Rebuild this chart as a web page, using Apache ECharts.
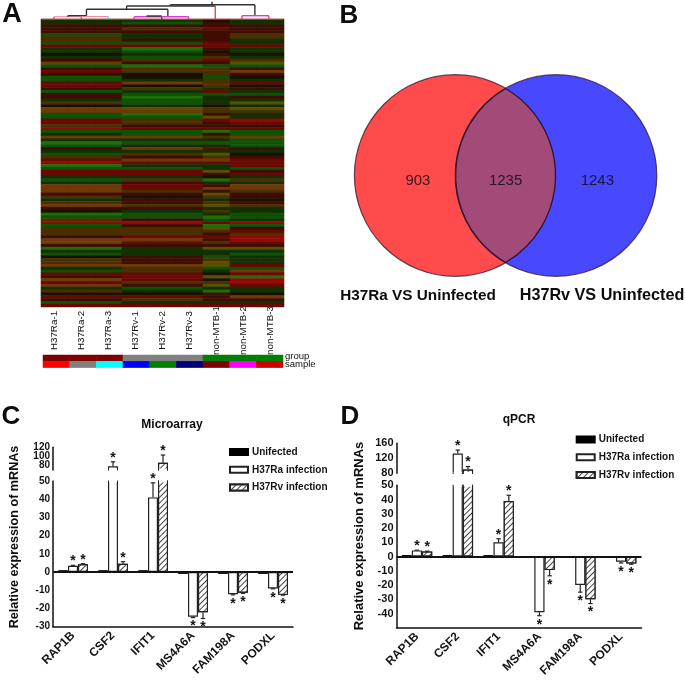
<!DOCTYPE html>
<html><head><meta charset="utf-8">
<style>html,body{margin:0;padding:0;background:#fff}#c{width:685px;height:682px}#c canvas{filter:blur(.45px)}</style>
<script src="https://cdn.jsdelivr.net/npm/echarts@6/dist/echarts.min.js"></script>
</head><body><div id="c"></div>
<script>
// ---------- data ----------
const samples = ['H37Ra-1','H37Ra-2','H37Ra-3','H37Rv-1','H37Rv-2','H37Rv-3','non-MTB-1','non-MTB-2','non-MTB-3'];
const stripRows = ['sample','group'];
const groupColors = ['#7f0000','#7f0000','#7f0000','#808080','#808080','#808080','#008000','#008000','#008000'];
const sampleColors = ['#ff0000','#808080','#00ffff','#0000ff','#008000','#00007f','#7f0000','#ff00ff','#cc0000'];
// heat rows, top to bottom; level codes -3..3 green to red, 4..6 brown/orange/olive mixes
const heatRa = [-1,-1,1,1,1,-2,4,4,-2,2,-1,-1,0,-1,1,5,-2,1,2,1,-2,
 -2,2,2,1,-2,1,1,-1,4,0,5,5,-2,-2,2,2,4,3,-2,-1,5,
 -1,-3,-2,1,-1,-2,4,2,3,-3,-2,2,2,-1,-2,-1,5,5,5,1,4,
 -1,4,5,1,0,-3,-2,4,3,-2,4,4,4,1,5,5,1,-3,-1,-2,0,
 4,4,5,-1,-2,2,1,5,2,5,-1,4,0,2,1,-2,2];
const heatRv = [-1,-2,1,4,1,-1,-1,1,-2,2,-3,-2,-1,-2,4,1,-3,4,4,0,0,
 -1,5,0,4,-1,-2,-3,-2,-2,-1,6,5,-3,-2,4,4,1,2,-2,-2,5,
 -1,-2,-1,5,-1,4,1,5,2,-1,-2,2,2,-1,4,1,2,2,4,1,0,
 1,1,4,1,-1,-2,-2,1,3,1,4,4,4,2,5,2,1,-1,-1,-1,1,
 1,1,5,4,4,2,2,2,4,1,-2,-1,0,2,4,-1,2];
const heatN1 = [0,1,1,2,1,1,1,1,2,2,1,0,1,4,2,1,-2,4,4,4,-2,
 4,4,4,-1,2,-2,-1,-1,-1,0,4,4,1,6,2,1,1,2,-3,1,4,
 -1,-2,-1,2,-1,6,4,5,2,-1,-1,6,1,0,-3,-1,1,5,1,6,4,
 -1,4,6,-1,4,-1,-3,-2,2,-3,6,4,1,2,1,4,1,6,-1,-1,-2,
 4,6,6,-2,-1,0,6,0,4,6,-1,-3,1,1,1,-1,2];
const heatN23 = [-1,-1,1,1,1,4,4,-1,-1,2,-1,-1,0,-1,4,6,-2,1,5,1,0,
 -1,2,0,1,-1,-2,1,-1,6,-1,6,4,-1,-1,3,2,1,2,-2,-2,5,
 -2,-2,-2,1,-1,0,1,2,2,2,-2,1,2,-1,4,-1,5,5,4,1,1,
 0,1,4,-1,-1,-2,-2,-1,3,-2,1,2,4,3,3,2,1,6,-1,-2,-1,
 -1,-1,2,-2,5,2,-3,3,3,2,-1,-1,0,5,1,-1,2];
const heatLevels = [-3,-2,-1,0,1,2,3,4,5,6];
const heatColors = ['#1f6e08','#0e5204','#123002','#181000','#3e0c00','#680800','#900a04','#4a3000','#6e3808','#565000'];
// dendrogram segments: x1,y1,x2,y2,colour index
const dendroColors = ['#333333','#e04a5a','#d83ad8','#44d0d0','#f08090'];
const dendro = [
 [0,19,9,19,4],
 [.45,19,.45,16.7,1],[1.47,19,1.47,16.7,1],[.45,16.7,1.47,16.7,4],[.96,16.7,.96,15.7,0],[.96,15.7,1.66,15.7,0],
 [2.47,19,2.47,16.5,3],[1.47,16.5,2.47,16.5,4],
 [1.66,15.7,1.66,9.3,0],[1.66,9.3,4.7,9.3,0],[4.7,9.3,4.7,16,0],[3.16,9.3,3.16,6,0],[3.16,6,6.47,6,0],
 [6.47,6,6.47,19,1],[4.79,6,4.79,4.7,0],[4.79,4.7,7.95,4.7,0],[7.95,4.7,7.95,15.7,0],[6.35,4.7,6.35,1.7,0],
 [7.47,15.7,8.47,15.7,2],[7.47,15.7,7.47,19,1],[8.47,15.7,8.47,19,1],
 [3.44,16.7,3.44,19,2],[4.47,16.5,4.47,19,0],[3.44,16.7,5.47,16.7,2],[5.47,16.7,5.47,19,2],[3.9,16,4.47,16,0]
];
// venn
const vennCircles = [[1,1,1],[2,1,1]];
const vennCounts = [903,1235,1243];
const vennCountX = [0.63,1.5,2.41];
// bars
const genes = ['RAP1B','CSF2','IFIT1','MS4A6A','FAM198A','PODXL'];
const seriesNames = ['Unifected','H37Ra infection','H37Rv infection'];
const microUnifected = [1,1,1,-1,-1,-1];
const microRa = [3.5,78,41,-24.5,-12.2,-9];
const microRv = [4.3,4.5,86,-22,-11.3,-12.5];
const microRaErr = [0.2,10,8,0.5,0.3,0.2];
const microRvErr = [0.3,1.2,17,3.5,0.4,0.2];
const qpcrUnifected = [1,1,1,-1,-1,-0.7];
const qpcrRa = [4.3,133,10,-39,-20,-3.7];
const qpcrRv = [3.5,90,39,-9.5,-30,-4.8];
const qpcrRaErr = [0.2,9,2.5,2.5,5,0.8];
const qpcrRvErr = [0.3,8,4,4,3,0.6];

// ---------- layout ----------
const FONT = '"Liberation Sans",Arial,sans-serif';
const INK = '#141414';
const grids = [], xAxes = [], yAxes = [], extraY = [], series = [];
function addGrid(g){ grids.push(g); return grids.length-1; }

// heatmap
const gHeat = addGrid({left:41,top:19,width:243,height:288});
xAxes.push({gridIndex:gHeat,type:'category',data:samples,axisLine:{show:false},axisTick:{show:false},
  axisLabel:{rotate:90,interval:0,margin:23.5,align:'center',verticalAlign:'middle',fontFamily:FONT,fontSize:9.8,color:'#111'}});
yAxes.push({gridIndex:gHeat,type:'category',inverse:true,data:heatRa.map((_,i)=>i),show:false});
const heatCells=[];
heatRa.forEach((_,r)=>{
  samples.forEach((_,c)=>{
    const v = c<3?heatRa[r]:c<6?heatRv[r]:c===6?heatN1[r]:heatN23[r];
    heatCells.push([c,r,v]);
  });
});
series.push({type:'heatmap',xAxisIndex:gHeat,yAxisIndex:gHeat,data:heatCells,progressive:0,animation:false});
const heatSeriesIndex = series.length-1;

// strips
const gStrip = addGrid({left:43,top:355,width:240,height:12.6});
xAxes.push({gridIndex:gStrip,type:'category',data:samples,show:false});
yAxes.push({gridIndex:gStrip,type:'category',data:stripRows,show:false});
const stripCells=[];
samples.forEach((_,c)=>{
  stripCells.push({value:[c,1,1],itemStyle:{color:groupColors[c]}});
  stripCells.push({value:[c,0,1],itemStyle:{color:sampleColors[c]}});
});
series.push({type:'heatmap',xAxisIndex:gStrip,yAxisIndex:gStrip,data:stripCells,z:5,animation:false});

// dendrogram
const gDen = addGrid({left:42,top:0,width:241,height:19});
xAxes.push({gridIndex:gDen,type:'value',min:0,max:9,show:false});
yAxes.push({gridIndex:gDen,type:'value',min:0,max:19,inverse:true,show:false});
series.push({type:'custom',xAxisIndex:gDen,yAxisIndex:gDen,data:dendro,clip:false,animation:false,
  encode:{x:[0,2],y:[1,3]},
  renderItem(p,api){
    const a=api.coord([api.value(0),api.value(1)]), b=api.coord([api.value(2),api.value(3)]);
    return {type:'line',shape:{x1:a[0],y1:a[1],x2:b[0],y2:b[1]},
      style:{stroke:dendroColors[api.value(4)],lineWidth:api.value(4)===4?0.9:1.4}};
  }});

// venn
const gVenn = addGrid({left:354.4,top:75,width:302.4,height:201});
xAxes.push({gridIndex:gVenn,type:'value',min:0,max:3,show:false});
yAxes.push({gridIndex:gVenn,type:'value',min:0,max:2,show:false});
const vennFill=['#ff4b4b','#4848ff'];
series.push({type:'custom',xAxisIndex:gVenn,yAxisIndex:gVenn,data:vennCircles,clip:false,animation:false,
  renderItem(p,api){
    const c=api.coord([api.value(0),api.value(1)]), r=api.size([api.value(2),0])[0];
    return {type:'circle',shape:{cx:c[0],cy:c[1],r:r},style:{fill:vennFill[p.dataIndex],stroke:'rgba(50,20,40,.75)',lineWidth:1.2}};
  }});
series.push({type:'custom',xAxisIndex:gVenn,yAxisIndex:gVenn,data:[[vennCircles[0][0],vennCircles[1][0],vennCircles[0][2]]],clip:false,animation:false,z:3,
  renderItem(p,api){
    const x1=api.value(0),x2=api.value(1),R=api.value(2),d=(x2-x1)/2,h=Math.sqrt(R*R-d*d),mx=(x1+x2)/2;
    const a=api.coord([mx,1+h]),b=api.coord([mx,1-h]),r=api.size([R,0])[0];
    return {type:'path',shape:{pathData:`M${a[0]} ${a[1]}A${r} ${r} 0 0 1 ${b[0]} ${b[1]}A${r} ${r} 0 0 1 ${a[0]} ${a[1]}Z`},
      style:{fill:'#a24a78',stroke:'rgba(35,15,40,.9)',lineWidth:1.3}};
  }});
series.push({type:'scatter',xAxisIndex:gVenn,yAxisIndex:gVenn,symbolSize:0,z:6,animation:false,
  data:vennCounts.map((v,i)=>({value:[vennCountX[i],0.95],name:String(v)})),
  label:{show:true,position:'inside',formatter:'{b}',fontFamily:FONT,fontSize:15,color:'#0c0810'}});

// bar panels
const hatch={symbol:'rect',symbolSize:1,color:'#444',backgroundColor:'#fff',dashArrayX:[1,0],dashArrayY:[1,3],rotation:-Math.PI/4};
const barStyles=[
  {color:'#000',borderColor:'#000',borderWidth:1},
  {color:'#fff',borderColor:'#222',borderWidth:1.2},
  {color:'#fff',borderColor:'#222',borderWidth:1.2,decal:hatch}
];
function panel(cfg){
  const up = addGrid({left:cfg.left,width:cfg.width,top:cfg.upTop,height:cfg.upH});
  xAxes.push({gridIndex:up,type:'category',data:genes,show:false});
  const axisLbl={fontFamily:FONT,fontSize:cfg.tickFont,fontWeight:'bold',color:INK,margin:3,lineHeight:8,hideOverlap:false,showMinLabel:true,showMaxLabel:true};
  const line={show:true,onZero:false,lineStyle:{color:'#111',width:1.5}};
  yAxes.push({gridIndex:up,type:'value',min:cfg.upMin,max:cfg.upMax,splitLine:{show:false},axisLine:line,
    axisTick:{length:5,lineStyle:{color:'#111',width:1.5},customValues:cfg.upTicks},
    axisLabel:Object.assign({customValues:cfg.upLabels},axisLbl)});
  if(cfg.upLabelsMid){
    // labels too close together to share one axis without being dropped
    extraY.push({gridIndex:up,type:'value',position:'left',min:cfg.upMin,max:cfg.upMax,splitLine:{show:false},
      axisLine:{show:false},axisTick:{show:false},
      axisLabel:Object.assign({customValues:cfg.upLabelsMid},axisLbl)});
  }
  const lo = addGrid({left:cfg.left,width:cfg.width,top:cfg.loTop,height:cfg.loH});
  xAxes.push({gridIndex:lo,type:'category',data:genes,axisLine:line,position:'bottom',
    axisTick:{alignWithLabel:true,length:5,lineStyle:{color:'#111',width:1.5}},
    axisLabel:{interval:0,rotate:45,margin:7,fontFamily:FONT,fontSize:12,fontWeight:'bold',color:INK}});
  yAxes.push({gridIndex:lo,type:'value',min:cfg.loMin,max:cfg.loMax,splitLine:{show:false},axisLine:line,
    axisTick:{length:5,lineStyle:{color:'#111',width:1.5},customValues:cfg.loTicks},
    axisLabel:Object.assign({customValues:cfg.loLabels},axisLbl)});
  const vals=[cfg.un,cfg.ra,cfg.rv], errs=[null,cfg.raErr,cfg.rvErr];
  [0,1,2].forEach(s=>{
    series.push({type:'bar',name:seriesNames[s],xAxisIndex:lo,yAxisIndex:lo,data:vals[s],barWidth:'25%',barGap:'0%',
      itemStyle:barStyles[s],animation:false,
      markLine:s===0?{silent:true,symbol:'none',label:{show:false},animation:false,lineStyle:{color:'#111',width:2,type:'solid'},data:[{yAxis:0}]}:undefined});
    series.push({type:'bar',name:seriesNames[s],xAxisIndex:up,yAxisIndex:up,data:vals[s].map(v=>v>cfg.upMin?v:null),barWidth:'25%',barGap:'0%',
      itemStyle:barStyles[s],animation:false});
  });
  const errItems=[];
  [1,2].forEach(s=>{
    vals[s].forEach((v,i)=>errItems.push([i,v,errs[s][i],s-1]));
  });
  const render=(p,api)=>{
    const cat=api.value(0),v=api.value(1),e=api.value(2),off=api.value(3);
    const sign=v<0?-1:1;
    const base=api.coord([cat,v]), tip=api.coord([cat,v+sign*e]);
    const band=api.size([1,0])[0], x=base[0]+off*band*0.25;
    const cap=2.2;
    const ls={stroke:'#222',lineWidth:1.2};
    return {type:'group',children:[
      {type:'line',shape:{x1:x,y1:base[1],x2:x,y2:tip[1]},style:ls},
      {type:'line',shape:{x1:x-cap,y1:tip[1],x2:x+cap,y2:tip[1]},style:ls},
      {type:'text',style:{text:'*',x:x,y:tip[1]+(sign>0?-4:9),align:'center',verticalAlign:'middle',font:'bold 14px '+FONT,fill:INK}}
    ]};
  };
  // bars that cross the axis break end openly: a white sliver hides the clip edge
  const mask=(edge)=>(p,api)=>{
    const c=api.coord([api.value(0),edge]), band=api.size([1,0])[0], bw=band*0.25, x=c[0]+api.value(3)*bw;
    return {type:'rect',shape:{x:x-bw/2+1,y:c[1]-1.5,width:bw-2,height:3},style:{fill:'#fff'}};
  };
  const crossing=errItems.filter(d=>d[1]>cfg.loMax);
  series.push({type:'custom',xAxisIndex:up,yAxisIndex:up,clip:false,animation:false,z:3,data:crossing,renderItem:mask(cfg.upMin)});
  series.push({type:'custom',xAxisIndex:lo,yAxisIndex:lo,clip:false,animation:false,z:3,data:crossing,renderItem:mask(cfg.loMax)});
  series.push({type:'custom',xAxisIndex:up,yAxisIndex:up,clip:false,animation:false,z:4,data:crossing,renderItem:render});
  series.push({type:'custom',xAxisIndex:lo,yAxisIndex:lo,clip:false,animation:false,z:4,
    data:errItems.filter(d=>d[1]<=cfg.loMax),renderItem:render});
}
panel({left:53,width:240,upTop:447.3,upH:22.7,upMin:70,upMax:120,upTicks:[70,80,100,120],upLabels:[80,120],upLabelsMid:[100],tickFont:10,
  loTop:481,loH:145.7,loMin:-30,loMax:50,loTicks:[-30,-20,-10,0,10,20,30,40,50],loLabels:[-30,-20,-10,0,10,20,30,40,50],
  un:microUnifected,ra:microRa,rv:microRv,raErr:microRaErr,rvErr:microRvErr});
panel({left:396.5,width:245,upTop:443.3,upH:30,upMin:80,upMax:160,upTicks:[80,120,160],upLabels:[80,120,160],tickFont:11,
  loTop:485.3,loH:142.5,loMin:-50,loMax:50,loTicks:[-50,-40,-30,-20,-10,0,10,20,30,40,50],loLabels:[-40,-30,-20,-10,0,10,20,30,40,50],
  un:qpcrUnifected,ra:qpcrRa,rv:qpcrRv,raErr:qpcrRaErr,rvErr:qpcrRvErr});

// text
function t(text,x,y,size,opt){
  return Object.assign({type:'text',x:x,y:y,z:20,style:{text:text,font:`bold ${size}px ${FONT}`,fill:'#0c0c0c',align:'center',verticalAlign:'middle'}},opt||{});
}
function plain(text,x,y,size){
  return {type:'text',x:x,y:y,z:20,style:{text:text,font:`${size}px ${FONT}`,fill:'#111',align:'left',verticalAlign:'middle'}};
}
const graphic=[
  t('A',12,15,27), t('B',349,16,26), t('C',11,417,26), t('D',350,417,26),
  t('H37Ra VS Uninfected',418,295.5,15.3), t('H37Rv VS Uninfected',602,295.5,16.2),
  t('Microarray',172,425,12), t('qPCR',519,420,12),
  t('Relative expression of mRNAs',15,537,12.6,{rotation:Math.PI/2}),
  t('Relative expression of mRNAs',359,536,13,{rotation:Math.PI/2}),
  plain(stripRows[1],285,356.5,9.5), plain(stripRows[0],285,364.5,9.5)
];
const legendBase={orient:'vertical',icon:'rect',itemWidth:18,itemHeight:6,itemGap:7.8,padding:0,selectedMode:false,data:seriesNames,
  textStyle:{fontFamily:FONT,fontSize:10,fontWeight:'bold',color:INK,padding:[0,0,0,-1]}};

echarts.init(document.getElementById('c'),null,{renderer:'canvas'}).setOption({
  animation:false,backgroundColor:'#fff',
  grid:grids,xAxis:xAxes,yAxis:yAxes.concat(extraY),series:series,graphic:graphic,
  legend:[Object.assign({},legendBase,{left:229,top:447}),Object.assign({},legendBase,{left:575.7,top:434.5})],
  visualMap:{show:false,type:'piecewise',seriesIndex:heatSeriesIndex,dimension:2,
    pieces:heatLevels.map((v,i)=>({value:v,color:heatColors[i]}))}
});
</script></body></html>
